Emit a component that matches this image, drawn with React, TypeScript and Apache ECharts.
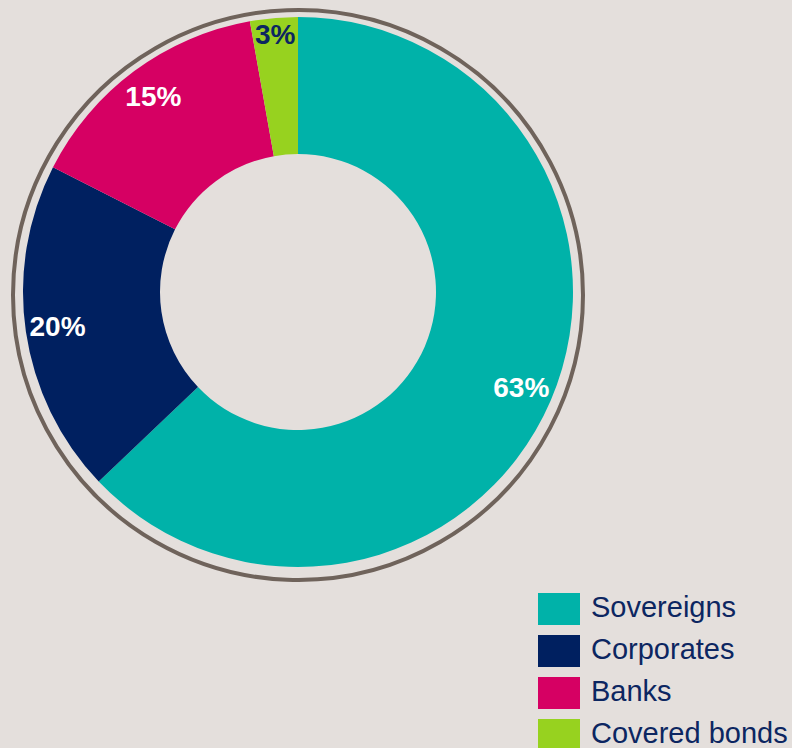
import React, { useEffect, useRef } from "react";
import * as echarts from "echarts";

const categories = ["Sovereigns", "Corporates", "Banks", "Covered bonds"];
const shares = [62.9, 19.6, 14.7, 2.8];
const colors = ["#00b2a9", "#002060", "#d60063", "#97d21f"];
const labelColors = ["#ffffff", "#ffffff", "#ffffff", "#0c2661"];

export default function App() {
  const ref = useRef<HTMLDivElement>(null);
  useEffect(() => {
    document.body.style.margin = "0";
    const chart = echarts.init(ref.current!, null, { renderer: "svg" });
    const center = [298, 292];
    const legendItems: any[] = [];
    categories.forEach((name, i) => {
      legendItems.push({
        type: "rect",
        shape: { x: 538, y: 593 + i * 42, width: 42, height: 32 },
        style: { fill: colors[i] },
        silent: true,
      });
      legendItems.push({
        type: "text",
        x: 591,
        y: 607 + i * 42,
        style: {
          text: name,
          fill: "#0c2661",
          fontFamily: "Liberation Sans, Arial, sans-serif",
          fontSize: 29,
          lineHeight: 28,
          verticalAlign: "middle",
        },
        silent: true,
      });
    });
    const labelBase = {
      show: true,
      position: "inside",
      fontFamily: "Liberation Sans, Arial, sans-serif",
      fontWeight: "bold",
      fontSize: 28,
      formatter: (p: any) => Math.round(p.value) + "%",
    };
    // label-only ring: big slices labelled at mid radius ~241, small slice at ~256
    const labelSeries = (radius: number[], showIdx: number[], suffix: string) => ({
      type: "pie",
      center,
      radius,
      startAngle: 90,
      clockwise: true,
      silent: true,
      labelLine: { show: false },
      itemStyle: { color: "rgba(0,0,0,0)", borderWidth: 0 },
      label: labelBase,
      data: categories.map((name, i) => ({
        name: name + suffix,
        value: shares[i],
        label: { show: showIdx.includes(i), color: labelColors[i] },
      })),
    });
    chart.setOption({
      animation: false,
      backgroundColor: "#e4dfdc",
      graphic: [
        {
          type: "circle",
          shape: { cx: 298, cy: 295, r: 285 },
          style: { fill: "none", stroke: "#6f635b", lineWidth: 4 },
          silent: true,
          z: 0,
        },
        ...legendItems,
      ],
      series: [
        {
          type: "pie",
          center,
          radius: [138, 275],
          startAngle: 90,
          clockwise: true,
          silent: true,
          label: { show: false },
          labelLine: { show: false },
          itemStyle: { borderWidth: 0 },
          data: categories.map((name, i) => ({
            name,
            value: shares[i],
            itemStyle: { color: colors[i] },
          })),
        },
        labelSeries([205, 275], [0, 1, 2], " "),
        labelSeries([237, 275], [3], "  "),
      ],
    });
    return () => chart.dispose();
  }, []);
  return (
    <div
      ref={ref}
      style={{ position: "absolute", left: 0, top: 0, width: 792, height: 748 }}
    />
  );
}
